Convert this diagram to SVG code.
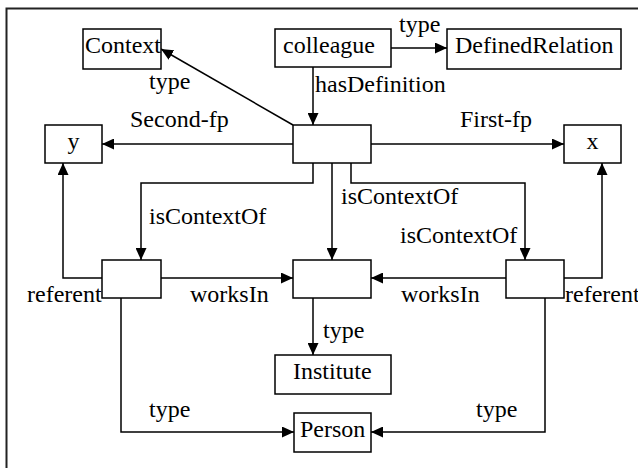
<svg xmlns="http://www.w3.org/2000/svg" width="638" height="468" viewBox="0 0 638 468">
<style>
  .box { fill: #fff; stroke: #000; stroke-width: 1.5; }
  .t { font-family: "Liberation Serif", "Times New Roman", serif; font-size: 24px; fill: #000; }
  .c { fill: none; stroke: #000; stroke-width: 1.5; marker-end: url(#ah); }
</style>
<defs>
  <marker id="ah" markerUnits="userSpaceOnUse" markerWidth="12" markerHeight="11" refX="12" refY="5.5" orient="auto">
    <path d="M0,0 L12,5.5 L0,11 z" fill="#000"/>
  </marker>
</defs>
<rect x="0" y="0" width="638" height="468" fill="#fff"/>
<rect x="6.5" y="8.5" width="700" height="600" fill="none" stroke="#222" stroke-width="2"/>

<g id="connectors">
  <path class="c" d="M391,48 H447"/>
  <path class="c" d="M313,67 V125"/>
  <path class="c" d="M293,125 L161,49"/>
  <path class="c" d="M293,144 H102"/>
  <path class="c" d="M371,144 H564"/>
  <path class="c" d="M313,163 V183 H141 V260"/>
  <path class="c" d="M332,163 V260"/>
  <path class="c" d="M351,163 V183 H525 V260"/>
  <path class="c" d="M102,278 H63 V163"/>
  <path class="c" d="M161,278 H293"/>
  <path class="c" d="M506,278 H371"/>
  <path class="c" d="M564,278 H602 V163"/>
  <path class="c" d="M313,298 V355"/>
  <path class="c" d="M121,298 V432 H294"/>
  <path class="c" d="M545,298 V432 H371"/>
  <text class="t" x="399" y="32">type</text>
  <text class="t" x="315" y="92">hasDefinition</text>
  <text class="t" x="149" y="89">type</text>
  <text class="t" x="130" y="127">Second-fp</text>
  <text class="t" x="460" y="127">First-fp</text>
  <text class="t" x="149" y="224">isContextOf</text>
  <text class="t" x="341" y="204">isContextOf</text>
  <text class="t" x="400" y="243">isContextOf</text>
  <text class="t" x="27" y="302">referent</text>
  <text class="t" x="190" y="302">worksIn</text>
  <text class="t" x="401" y="302">worksIn</text>
  <text class="t" x="565" y="302">referent</text>
  <text class="t" x="323" y="338">type</text>
  <text class="t" x="149" y="417">type</text>
  <text class="t" x="476" y="417">type</text>
</g>

<g id="context"><rect class="box" x="83" y="29" width="78" height="40"/><text class="t" x="85" y="53">Context</text></g>
<g id="colleague"><rect class="box" x="275" y="29" width="116" height="38"/><text class="t" x="283" y="53">colleague</text></g>
<g id="definedrelation"><rect class="box" x="447" y="29" width="174" height="40"/><text class="t" x="455" y="53">DefinedRelation</text></g>
<g id="y"><rect class="box" x="45" y="125" width="57" height="38"/><text class="t" x="73.5" y="149" text-anchor="middle">y</text></g>
<g id="center"><rect class="box" x="293" y="125" width="78" height="38"/></g>
<g id="x"><rect class="box" x="564" y="125" width="57" height="38"/><text class="t" x="592.5" y="149" text-anchor="middle">x</text></g>
<g id="left"><rect class="box" x="102" y="260" width="59" height="38"/></g>
<g id="middle"><rect class="box" x="293" y="260" width="78" height="38"/></g>
<g id="right"><rect class="box" x="506" y="260" width="58" height="38"/></g>
<g id="institute"><rect class="box" x="275" y="355" width="116" height="39"/><text class="t" x="293" y="379">Institute</text></g>
<g id="person"><rect class="box" x="294" y="413" width="77" height="39"/><text class="t" x="300" y="437">Person</text></g>
</svg>
